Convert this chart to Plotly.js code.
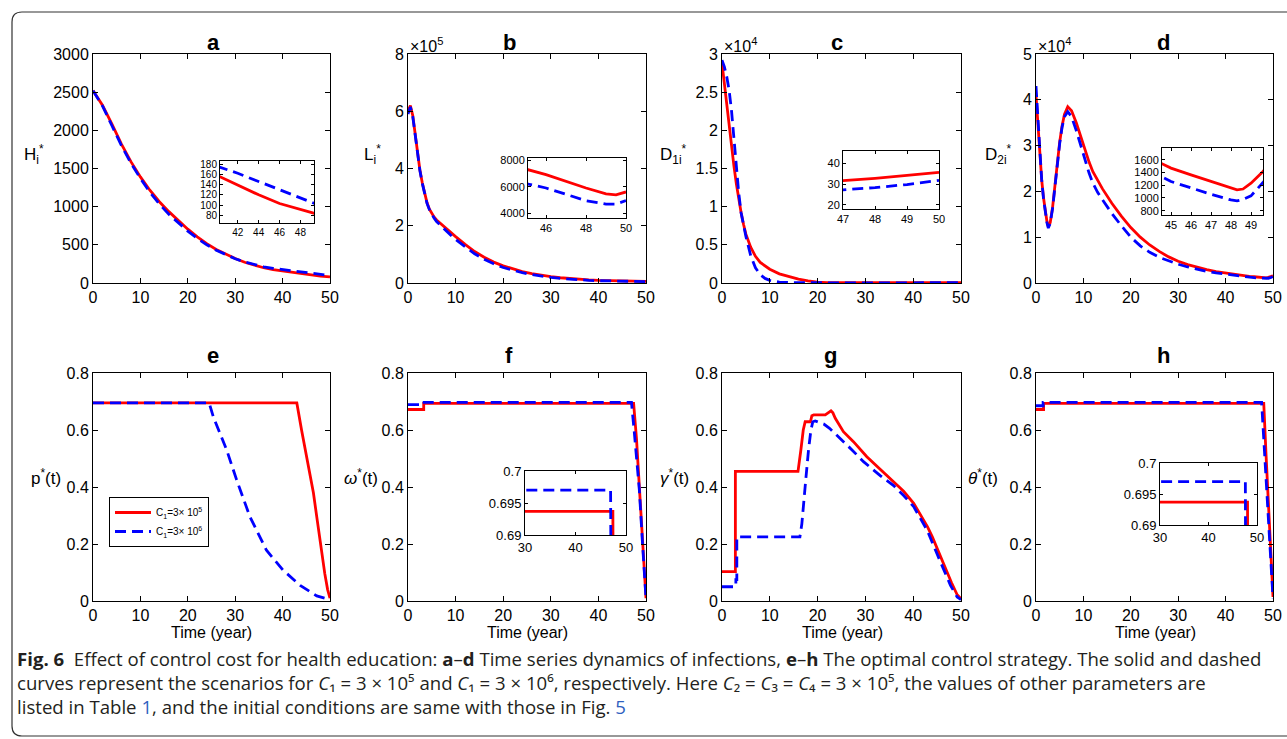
<!DOCTYPE html>
<html><head><meta charset="utf-8">
<script src="https://cdn.plot.ly/plotly-3.0.1.min.js"></script>
<style>html,body{margin:0;padding:0;background:#fff;overflow:hidden}#chart{width:1287px;height:739px}</style>
</head><body><div id="chart"></div>
<script>
// ---------------- DATA ----------------
// (a) H_i*
const tA = [0,2,4,6,8,10,12,14,16,18,20,22,24,26,28,30,32,34,36,38,40,42,44,46,48,50];
const aRed = [2520,2330,2080,1820,1590,1390,1215,1065,935,815,705,605,515,440,375,320,272,232,200,175,158,139,120,103,91,80];
const aBlue = [2520,2320,2060,1800,1570,1370,1190,1035,900,785,680,585,500,430,370,318,275,240,212,192,176,162,146,130,115,98];
// (b) L_i*
const tB = [0,0.5,1,1.5,2,2.5,3,3.5,4,4.5,5,5.5,6,7,8,9,10,12,14,16,18,20,22,24,26,28,30,32,34,36,38,40,42,44,45.1,46,47,48,49,49.5,50];
const bRed = [600000,620000,585000,520000,450000,395000,350000,310000,280000,258000,243000,230000,220000,205000,190000,176000,162000,135000,110000,90000,73000,60000,49000,40000,33000,27000,22000,18300,15300,12800,10800,9300,8200,7600,7290,6910,6400,5900,5450,5380,5600];
const bBlue = [590000,615000,582000,518000,448000,393000,348000,308000,278000,256000,240000,226000,215000,198000,182000,167000,152000,126000,102000,83000,67000,54000,44000,36000,29500,24000,19500,16000,13200,11000,9300,8000,7100,6550,6200,5900,5400,4940,4680,4680,4940];
// (c) D_1i*
const tC = [0,0.5,1,1.5,2,2.5,3,3.5,4,4.5,5,6,7,8,9,10,12,14,16,18,20,22,25,30,35,40,45,47,48,49,50];
const cRed = [28800,26000,23000,20300,17800,15300,13000,11000,9200,7700,6400,4700,3500,2700,2200,1800,1200,800,500,280,120,60,40,33,31,31,31,31.7,32.8,34.1,35.7];
const cBlue = [29200,28300,27000,25200,22500,18800,15000,11800,9200,7500,6100,3600,2000,1100,600,350,120,60,35,28,27,26.5,26.2,26,26,26,26.3,27.2,28.3,29.8,31.8];
// (d) D_2i*
const tD = [0,0.4,0.8,1.2,1.6,2,2.3,2.6,3,3.5,4,4.5,5,5.5,6,6.7,7.5,8.5,9.5,10.5,11.2,12,13,14,16,18,20,22,24,26,28,30,32,34,36,38,40,42,44,45,46,47,48,48.3,48.6,49,49.6,50];
const dRed = [41000,35000,28000,22500,18500,15500,13500,12300,13200,16500,21500,26500,30800,34300,36800,38500,37600,35000,31800,28500,26400,24300,22300,20600,17400,14600,12100,10000,8300,6900,5700,4750,4000,3400,2900,2480,2150,1870,1620,1468,1363,1258,1153,1126,1140,1232,1416,1560];
const dBlue = [43000,36000,28500,22500,18300,15200,13200,12000,13000,16300,21200,26200,30500,34000,36300,37400,36300,33300,29800,26300,24000,21800,19800,18200,15200,12500,10000,8100,6700,5600,4800,4100,3500,3000,2550,2200,1900,1650,1420,1258,1153,1058,968,953,975,1032,1242,1400];
// (e) p*(t)
const tERed = [0,43,44,45,45.8,46.5,47.2,48,48.9,49.5,50];
const eRed = [0.695,0.695,0.60,0.51,0.448,0.38,0.296,0.2,0.096,0.04,0.01];
const tEBlue = [0,24.5,25.4,26.5,28.2,30.3,33.1,36.6,40.1,43.7,47.2,50];
const eBlue = [0.695,0.695,0.645,0.6,0.53,0.425,0.296,0.178,0.108,0.055,0.018,0.005];
// (f) omega*(t)
const tFRed = [0,3.3,3.3,47.4,48,48.5,49,49.5,50];
const fRed = [0.672,0.672,0.6937,0.6937,0.57,0.43,0.29,0.15,0.01];
const tFBlue = [0,2.9,2.9,46.95,47.5,48,48.6,49.2,49.6,50];
const fBlue = [0.689,0.689,0.697,0.697,0.6,0.5,0.39,0.22,0.1,0.01];
// (g) gamma*(t)
const tGRed = [0,2.8,2.8,15.9,16.5,17.0,17.4,18.5,18.8,19.2,21.6,22.3,22.8,23.2,23.7,25.4,27.5,30.3,34.5,36,38,40.1,42,43,44,45.7,47,48,49.2,50];
const gRed = [0.103,0.103,0.455,0.455,0.53,0.6,0.629,0.629,0.65,0.653,0.653,0.66,0.667,0.66,0.641,0.594,0.559,0.506,0.44,0.42,0.385,0.343,0.29,0.26,0.225,0.155,0.1,0.065,0.022,0.008];
const tGBlue = [0,2.9,2.9,3.1,3.1,16.3,16.7,17.1,17.6,18.1,18.6,19.0,19.5,20.3,21.3,22.5,24.7,27.2,29.6,33.1,35.9,38,40.1,42.9,45.7,47.8,49.2,50];
const gBlue = [0.05,0.05,0.075,0.075,0.225,0.225,0.27,0.354,0.44,0.53,0.6,0.629,0.632,0.627,0.621,0.606,0.571,0.53,0.489,0.44,0.405,0.37,0.331,0.249,0.137,0.055,0.014,0.005];
// (h) theta*(t)
const tHRed = [0,1.6,1.6,48.05,48.5,49,49.5,50];
const hRed = [0.672,0.672,0.6937,0.6937,0.524,0.354,0.184,0.014];
const tHBlue = [0,1.5,1.5,47.6,48,48.5,49,49.5,50];
const hBlue = [0.685,0.685,0.697,0.697,0.583,0.44,0.297,0.154,0.01];

const legendNames = ['C<sub>1</sub>=3× 10<sup>5</sup>','C<sub>1</sub>=3× 10<sup>6</sup>'];
const panelLetters = ['a','b','c','d','e','f','g','h'];
const yLabels = ['H<sub>i</sub><sup>*</sup>','L<sub>i</sub><sup>*</sup>','D<sub>1i</sub><sup>*</sup>','D<sub>2i</sub><sup>*</sup>',
  'p<sup>*</sup>(t)','<i>ω</i><sup>*</sup>(t)','<i>γ</i><sup>*</sup>(t)','<i>θ</i><sup>*</sup>(t)'];
const xTicks = [0,10,20,30,40,50];
const ctrlTicks = [0,0.2,0.4,0.6,0.8];
const ctrlTickText = ['0','0.2','0.4','0.6','0.8'];
const xLabel = 'Time (year)';
const captionLines = [
  '<b>Fig. 6</b>  Effect of control cost for health education: <b>a</b>–<b>d</b> Time series dynamics of infections, <b>e</b>–<b>h</b> The optimal control strategy. The solid and dashed',
  'curves represent the scenarios for <i>C</i>₁ = 3 × 10⁵ and <i>C</i>₁ = 3 × 10⁶, respectively. Here <i>C</i>₂ = <i>C</i>₃ = <i>C</i>₄ = 3 × 10⁵, the values of other parameters are',
  'listed in Table <span style="color:#2f5fbf">1</span>, and the initial conditions are same with those in Fig. <span style="color:#2f5fbf">5</span>'
];

// ---------------- LAYOUT HELPERS ----------------
const W = 1287, H = 739;
const px = x => x / W, py = y => 1 - y / H;
const FONT = 'Liberation Sans, Arial, Helvetica, sans-serif';
const CAPFONT = 'Open Sans, Lato, DejaVu Sans, sans-serif';
const RED = '#ff0000', BLUE = '#0000ff', LW = 2.8, DASH = '11px,6px';

const traces = [];
function addPair(xa, ya, tr, red, tb, blue, legend) {
  traces.push({x: tr, y: red, type: 'scatter', mode: 'lines', xaxis: xa, yaxis: ya,
    line: {color: RED, width: LW}, name: legendNames[0], showlegend: !!legend, hoverinfo: 'skip'});
  traces.push({x: tb, y: blue, type: 'scatter', mode: 'lines', xaxis: xa, yaxis: ya,
    line: {color: BLUE, width: LW, dash: DASH}, name: legendNames[1], showlegend: !!legend, hoverinfo: 'skip'});
}

function axBase(size) {
  return {showline: true, linecolor: '#000', linewidth: 1, mirror: 'ticks', ticks: 'inside', ticklen: 5,
    tickcolor: '#000', tickwidth: 1, showgrid: false, zeroline: false, fixedrange: true,
    tickfont: {family: FONT, size: size, color: '#000'}};
}

const layout = {width: W, height: H, margin: {l: 0, r: 0, t: 0, b: 0}, paper_bgcolor: '#fff', plot_bgcolor: 'rgba(0,0,0,0)',
  showlegend: true, annotations: [], shapes: [],
  legend: {x: px(109), y: py(497), xanchor: 'left', yanchor: 'top', bgcolor: '#fff', bordercolor: '#000', borderwidth: 1,
    font: {family: FONT, size: 10, color: '#000'}, itemwidth: 36, tracegroupgap: 0}};

const colX = [[93, 330], [408, 646], [722, 961], [1036, 1273]];
const rowY = [[54, 283], [373, 601]];

// main axes 1..8
const mainY = [
  {range: [0, 3000], tickvals: [0,500,1000,1500,2000,2500,3000]},
  {range: [0, 800000], tickvals: [0,200000,400000,600000,800000], ticktext: ['0','2','4','6','8']},
  {range: [0, 30000], tickvals: [0,5000,10000,15000,20000,25000,30000], ticktext: ['0','0.5','1','1.5','2','2.5','3']},
  {range: [0, 50000], tickvals: [0,10000,20000,30000,40000,50000], ticktext: ['0','1','2','3','4','5']},
  {range: [0, 0.8], tickvals: ctrlTicks, ticktext: ctrlTickText},
  {range: [0, 0.8], tickvals: ctrlTicks, ticktext: ctrlTickText},
  {range: [0, 0.8], tickvals: ctrlTicks, ticktext: ctrlTickText},
  {range: [0, 0.8], tickvals: ctrlTicks, ticktext: ctrlTickText}
];
for (let i = 0; i < 8; i++) {
  const n = i + 1, c = colX[i % 4], r = rowY[Math.floor(i / 4)];
  const xk = n === 1 ? 'xaxis' : 'xaxis' + n, yk = n === 1 ? 'yaxis' : 'yaxis' + n;
  layout[xk] = Object.assign(axBase(16), {domain: [px(c[0]), px(c[1])], anchor: 'y' + (n === 1 ? '' : n), range: [0, 50], tickvals: xTicks});
  layout[yk] = Object.assign(axBase(16), {domain: [py(r[1]), py(r[0])], anchor: 'x' + (n === 1 ? '' : n)}, mainY[i]);
}

// insets 9..14
const insets = [
  {n: 9,  box: [220, 314, 161, 223], xr: [40.3, 49.3], xt: [42,44,46,48], yr: [65, 186], yt: [80,100,120,140,160,180], fs: 10},
  {n: 10, box: [528, 626, 158, 218], xr: [45.1, 50], xt: [46,48,50], yr: [3620, 8180], yt: [4000,6000,8000], fs: 11},
  {n: 11, box: [843, 939, 151, 209], xr: [47, 50], xt: [47,48,49,50], yr: [17.9, 46.1], yt: [20,30,40], fs: 11},
  {n: 12, box: [1162, 1263, 148, 215], xr: [44.55, 49.6], xt: [45,46,47,48,49], yr: [732, 1784], yt: [800,1000,1200,1400,1600], fs: 11},
  {n: 13, box: [525, 626, 471, 535], xr: [30, 50], xt: [30,40,50], yr: [0.69, 0.70], yt: [0.69,0.695,0.7], ytt: ['0.69','0.695','0.7'], fs: 13},
  {n: 14, box: [1160, 1257, 463, 525], xr: [30, 50], xt: [30,40,50], yr: [0.69, 0.70], yt: [0.69,0.695,0.7], ytt: ['0.69','0.695','0.7'], fs: 13}
];
insets.forEach(s => {
  layout['xaxis' + s.n] = Object.assign(axBase(s.fs), {domain: [px(s.box[0]), px(s.box[1])], anchor: 'y' + s.n, range: s.xr, tickvals: s.xt, ticklen: 3});
  const ya = Object.assign(axBase(s.fs), {domain: [py(s.box[3]), py(s.box[2])], anchor: 'x' + s.n, range: s.yr, tickvals: s.yt, ticklen: 3});
  if (s.ytt) ya.ticktext = s.ytt;
  layout['yaxis' + s.n] = ya;
});

// traces: main
addPair('x', 'y', tA, aRed, tA, aBlue);
addPair('x2', 'y2', tB, bRed, tB, bBlue);
addPair('x3', 'y3', tC, cRed, tC, cBlue);
addPair('x4', 'y4', tD, dRed, tD, dBlue);
addPair('x5', 'y5', tERed, eRed, tEBlue, eBlue, true);
addPair('x6', 'y6', tFRed, fRed, tFBlue, fBlue);
addPair('x7', 'y7', tGRed, gRed, tGBlue, gBlue);
addPair('x8', 'y8', tHRed, hRed, tHBlue, hBlue);
// traces: insets
addPair('x9', 'y9', tA, aRed, tA, aBlue);
addPair('x10', 'y10', tB, bRed, tB, bBlue);
addPair('x11', 'y11', tC, cRed, tC, cBlue);
addPair('x12', 'y12', tD, dRed, tD, dBlue);
addPair('x13', 'y13', tFRed, fRed, tFBlue, fBlue);
addPair('x14', 'y14', tHRed, hRed, tHBlue, hBlue);

// annotations
const ann = layout.annotations;
function A(text, x, y, size, opts) {
  ann.push(Object.assign({text: text, x: px(x), y: py(y), xref: 'paper', yref: 'paper', showarrow: false,
    xanchor: 'center', yanchor: 'middle', font: {family: FONT, size: size, color: '#000'}}, opts || {}));
}
const titleX = [213, 509, 837, 1163, 213, 509, 830, 1163];
const titleY = [42, 42, 42, 42, 355, 355, 355, 355];
panelLetters.forEach((l, i) => A('<b>' + l + '</b>', titleX[i], titleY[i], 22));
const ylX = [34, 372, 673, 998, 46, 361, 674, 983];
const ylY = [155, 155, 155, 155, 477, 477, 477, 477];
yLabels.forEach((t, i) => A(t, ylX[i], ylY[i], 17));
A('×10<sup>5</sup>', 408, 45, 16, {xanchor: 'left'});
A('×10<sup>4</sup>', 722, 45, 16, {xanchor: 'left'});
A('×10<sup>4</sup>', 1036, 45, 16, {xanchor: 'left'});
[211, 527, 842, 1155].forEach(x => A(xLabel, x, 632, 16));
A(captionLines.join('<br>'), 15, 682, 18.6, {xanchor: 'left', align: 'left', font: {family: CAPFONT, size: 18.6, color: '#231f20'}});

// rounded frame
const fx0 = 12, fy0 = 12, fy1 = 736, r = 10, fx1 = 1320;
layout.shapes.push({type: 'path', xref: 'paper', yref: 'paper', line: {color: '#333', width: 1.2},
  path: `M ${px(fx1)} ${py(fy0)} L ${px(fx0 + r)} ${py(fy0)} Q ${px(fx0)} ${py(fy0)} ${px(fx0)} ${py(fy0 + r)} L ${px(fx0)} ${py(fy1 - r)} Q ${px(fx0)} ${py(fy1)} ${px(fx0 + r)} ${py(fy1)} L ${px(fx1)} ${py(fy1)}`});

Plotly.newPlot('chart', traces, layout, {staticPlot: true, displayModeBar: false});
</script>
</body></html>
